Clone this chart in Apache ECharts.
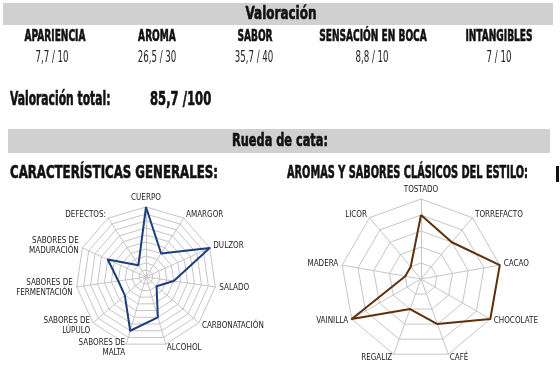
<!DOCTYPE html>
<html><head><meta charset="utf-8">
<script src="https://cdn.jsdelivr.net/npm/echarts@6/dist/echarts.min.js"></script>
<style>html,body{margin:0;padding:0;background:#fff}#c{width:560px;height:370px}</style>
</head><body><div id="c"></div>
<script>
// ---- data ----
const scoreCategories = ['APARIENCIA', 'AROMA', 'SABOR', 'SENSACIÓN EN BOCA', 'INTANGIBLES'];
const scoreObtained = [7.7, 26.5, 35.7, 8.8, 7];
const scoreMax = [10, 30, 40, 10, 10];
const totalObtained = 85.7;
const totalMax = 100;
const generalCategories = ['CUERPO', 'AMARGOR', 'DULZOR', 'SALADO', 'CARBONATACIÓN', 'ALCOHOL',
  'SABORES DE\nMALTA', 'SABORES DE\nLÚPULO', 'SABORES DE\nFERMENTACIÓN', 'SABORES DE\nMADURACIÓN', 'DEFECTOS:'];
const generalValues = [5, 2, 5, 2, 1, 3, 4, 2, 2, 3, 1];
const aromaCategories = ['TOSTADO', 'TORREFACTO', 'CACAO', 'CHOCOLATE', 'CAFÉ', 'REGALIZ', 'VAINILLA', 'MADERA', 'LICOR'];
const aromaValues = [4, 3, 5, 5, 3, 2, 5, 1, 1];
const scaleMax = 5;

// ---- helpers ----
const fmt = v => String(v).replace('.', ',');
const HF = '"Liberation Sans Narrow","DejaVu Sans Condensed",sans-serif';
const LF = '"Liberation Sans Narrow","DejaVu Sans Condensed","Noto Sans",sans-serif';
// ECharts lays radar indicators counter-clockwise; reorder to read clockwise
const cw = arr => [arr[0]].concat(arr.slice(1).reverse());

function txt(text, x, y, size, sx, opts) {
  opts = opts || {};
  const bold = (opts.weight || 'bold') === 'bold';
  const fill = opts.fill || '#111';
  return {
    type: 'text', x: x, y: y, scaleX: sx, z: 10,
    style: {
      text: text, x: 0, y: 0,
      font: (opts.weight || 'bold') + ' ' + size + 'px ' + HF,
      fill: fill,
      stroke: bold ? fill : null, lineWidth: bold ? 0.6 : 0,
      align: opts.align || 'center', verticalAlign: 'middle'
    }
  };
}

const headerX = [55, 157, 255, 373, 499];
const valueX = [52, 157, 254, 372, 499];
const graphics = [
  { type: 'rect', shape: { x: 3, y: 3, width: 550, height: 22 }, style: { fill: '#d0d0d0' } },
  { type: 'rect', shape: { x: 8, y: 129, width: 542, height: 24 }, style: { fill: '#d0d0d0' } },
  { type: 'rect', shape: { x: 556, y: 166, width: 3, height: 16 }, style: { fill: '#111' } },
  txt('Valoración', 281, 14, 18, 0.74),
  txt('Valoración total:', 10, 100, 19, 0.63, { align: 'left' }),
  txt(fmt(totalObtained) + ' /' + totalMax, 150, 100, 19, 0.68, { align: 'left' }),
  txt('Rueda de cata:', 280, 141, 18, 0.7),
  txt('CARACTERÍSTICAS GENERALES:', 10, 174, 17, 0.77, { align: 'left' }),
  txt('AROMAS Y SABORES CLÁSICOS DEL ESTILO:', 287, 174, 17, 0.64, { align: 'left' })
];
scoreCategories.forEach((c, i) => {
  graphics.push(txt(c, headerX[i], 37, 16, 0.63));
  graphics.push(txt(fmt(scoreObtained[i]) + ' / ' + scoreMax[i], valueX[i], 58, 16, 0.6, { weight: 'normal', fill: '#222' }));
});

const gridColor = '#c6c6c6';
function radarCfg(cats, center, radius, split) {
  return {
    center: center, radius: radius, startAngle: 90, splitNumber: split, shape: 'polygon',
    indicator: cw(cats).map(n => ({ name: n, max: scaleMax, min: 0 })),
    nameGap: 4,
    axisName: { color: '#222', fontSize: 8, fontFamily: LF, lineHeight: 10 },
    splitLine: { lineStyle: { color: gridColor, width: 1 } },
    axisLine: { lineStyle: { color: gridColor, width: 1 } },
    splitArea: { show: false },
    axisTick: { show: false },
    axisLabel: { show: false }
  };
}

const chart = echarts.init(document.getElementById('c'), null, { renderer: 'canvas' });
chart.setOption({
  animation: false,
  backgroundColor: '#fff',
  graphic: graphics,
  radar: [
    radarCfg(generalCategories, [146, 277], 70, 10),
    radarCfg(aromaCategories, [421, 279], 80, 5)
  ],
  series: [
    {
      type: 'radar', radarIndex: 0, symbol: 'none',
      lineStyle: { color: '#1f3d7a', width: 2 },
      data: [{ value: cw(generalValues) }]
    },
    {
      type: 'radar', radarIndex: 1, symbol: 'none',
      lineStyle: { color: '#5e300c', width: 2 },
      data: [{ value: cw(aromaValues) }]
    }
  ]
});
</script>
</body></html>
